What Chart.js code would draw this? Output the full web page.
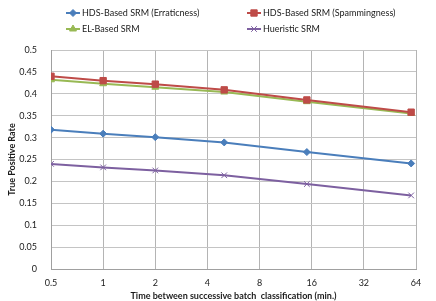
<!DOCTYPE html>
<html>
<head>
<meta charset="utf-8">
<script src="https://cdn.jsdelivr.net/npm/chart.js@4"></script>
<style>
  html, body { margin: 0; padding: 0; background: #fff; }
  #wrap { width: 436px; height: 301px; }
</style>
</head>
<body>
<div id="wrap"><canvas id="chart"></canvas></div>
<script>
// data
const minutes = [0.5, 1, 2, 5, 15, 60];
const xTicks = [0.5, 1, 2, 4, 8, 16, 32, 64];
const erraticness = [0.318, 0.309, 0.301, 0.289, 0.267, 0.241];
const spammingness = [0.440, 0.430, 0.422, 0.409, 0.386, 0.358];
const elBased = [0.432, 0.423, 0.415, 0.404, 0.382, 0.355];
const heuristic = [0.240, 0.232, 0.225, 0.214, 0.194, 0.168];

const FONT = 'Lato, "Open Sans", sans-serif';

function pts(vals) {
  return minutes.map((m, i) => ({ x: m, y: vals[i] }));
}

function series(label, vals, color, style, r) {
  return {
    label,
    data: pts(vals),
    borderColor: color,
    backgroundColor: color,
    pointBackgroundColor: color,
    pointBorderColor: color,
    pointStyle: style,
    pointRadius: r,
    pointBorderWidth: 1,
    borderWidth: 2,
    tension: 0,
    fill: false
  };
}

// legend in two columns, like the original
const legendPos = [
  { x: 73, y: 13 }, { x: 254, y: 13 },
  { x: 73, y: 29 }, { x: 254, y: 29 }
];
const twoColLegend = {
  id: 'twoColLegend',
  afterDraw(chart) {
    const ctx = chart.ctx;
    chart.data.datasets.forEach((ds, i) => {
      const p = legendPos[i];
      ctx.save();
      ctx.strokeStyle = ds.borderColor;
      ctx.lineWidth = 2;
      ctx.beginPath();
      ctx.moveTo(p.x - 7, p.y);
      ctx.lineTo(p.x + 7, p.y);
      ctx.stroke();
      ctx.fillStyle = ds.pointBackgroundColor;
      ctx.strokeStyle = ds.pointBorderColor;
      ctx.lineWidth = 1;
      if (Chart.helpers && Chart.helpers.drawPoint) {
        Chart.helpers.drawPoint(ctx, { pointStyle: ds.pointStyle, radius: ds.pointRadius, borderWidth: 1, rotation: 0 }, p.x, p.y);
      }
      ctx.fillStyle = '#1a1a1a';
      ctx.font = '9px ' + FONT;
      ctx.textBaseline = 'middle';
      ctx.fillText(ds.label, p.x + 9, p.y);
      ctx.restore();
    });
  }
};

new Chart(document.getElementById('chart'), {
  type: 'line',
  data: {
    datasets: [
      series('HDS-Based SRM (Erraticness)', erraticness, '#4a7ebb', 'rectRot', 3.5),
      series('HDS-Based SRM (Spammingness)', spammingness, '#be4b48', 'rect', 4.5),
      series('EL-Based SRM', elBased, '#98b954', 'triangle', 4),
      series('Hueristic SRM', heuristic, '#7d60a0', 'crossRot', 4)
    ]
  },
  options: {
    responsive: true,
    maintainAspectRatio: false,
    animation: false,
    devicePixelRatio: 1,
    layout: { padding: { top: 50, right: 20, bottom: 0, left: 0 } },
    plugins: {
      legend: { display: false },
      tooltip: { enabled: false }
    },
    scales: {
      x: {
        type: 'logarithmic',
        min: 0.5,
        max: 64,
        afterBuildTicks: s => { s.ticks = xTicks.map(v => ({ value: v })); },
        afterFit: s => { s.height = 32; },
        ticks: {
          autoSkip: false,
          maxRotation: 0,
          padding: 9,
          color: '#1a1a1a',
          font: { family: FONT, size: 9 },
          callback: v => String(v)
        },
        grid: { color: '#b4b4b4', drawTicks: false },
        border: { color: '#a0a0a0' },
        title: {
          display: true,
          text: 'Time between successive batch  classification (min.)',
          color: '#1a1a1a',
          font: { family: FONT, size: 9, weight: 'bold' },
          padding: { top: 0, bottom: 0 }
        }
      },
      y: {
        min: 0,
        max: 0.5,
        afterFit: s => { s.width = 51; },
        ticks: {
          stepSize: 0.025,
          padding: 14,
          color: '#1a1a1a',
          font: { family: FONT, size: 9 },
          callback: (v, i) => i % 2 === 0 ? String(Math.round(v * 1000) / 1000) : ''
        },
        grid: { color: '#c4c4c4', drawTicks: false },
        border: { color: '#a0a0a0' },
        title: {
          display: true,
          text: 'True Positive Rate',
          color: '#1a1a1a',
          font: { family: FONT, size: 9, weight: 'bold' },
          padding: { top: 7, bottom: 0 }
        }
      }
    }
  },
  plugins: [twoColLegend]
});
</script>
</body>
</html>
